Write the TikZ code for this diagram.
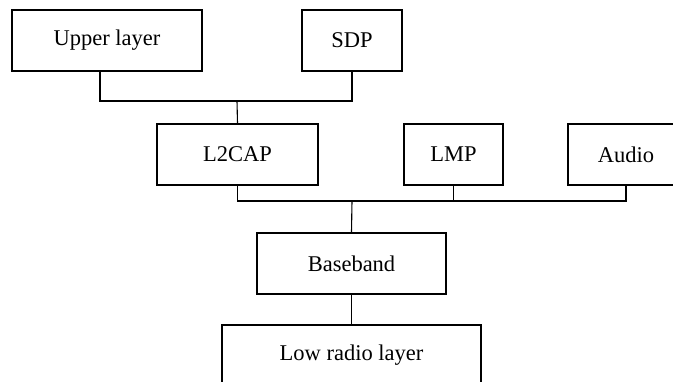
\documentclass[tikz,border=0pt]{standalone}
\usepackage{fontspec}
\setmainfont{Liberation Serif}
\usetikzlibrary{positioning}

\begin{document}
\begin{tikzpicture}[x=1pt, y=1pt, line width=1.1pt,
                    layer/.style={draw, minimum height=61pt, inner sep=0pt,
                                  font=\fontsize{22.5}{27}\selectfont}]
    \path[use as bounding box, clip] (0,0) rectangle (673,-381);

   \node[layer, minimum width=190pt] (upper)    at (107,-40.5)    {Upper layer};
   \node[layer, minimum width=100pt] (sdp)      at (352,-40.5)    {SDP};
   \node[layer, minimum width=161pt] (l2cap)    at (237.5,-154.5) {L2CAP};
   \node[layer, minimum width=99pt]  (lmp)      at (453.5,-154.5) {LMP};
   \node[layer, minimum width=116pt] (audio)    at (626,-154.5)   {Audio};
   \node[layer, minimum width=189pt] (baseband) at (351.5,-263.5) {Baseband};
   \node[layer, minimum width=259pt] (lowradio) at (351.5,-355.5) {Low radio layer};

   % Define buses
   \coordinate (bus1) at (237,-101);
   \coordinate (bus2) at (352,-201);

   \draw ([xshift=-7pt]upper.south) |- (bus1) -| (sdp.south);
   \draw (bus1) -- (l2cap.north);
   \draw (l2cap.south) |- (bus2) -| (audio.south);
   \draw (lmp.south) -- (lmp.south |- bus2);
   \draw (bus2) -- (baseband.north);
   \draw (baseband.south) -- (lowradio.north);

\end{tikzpicture}
\end{document}
